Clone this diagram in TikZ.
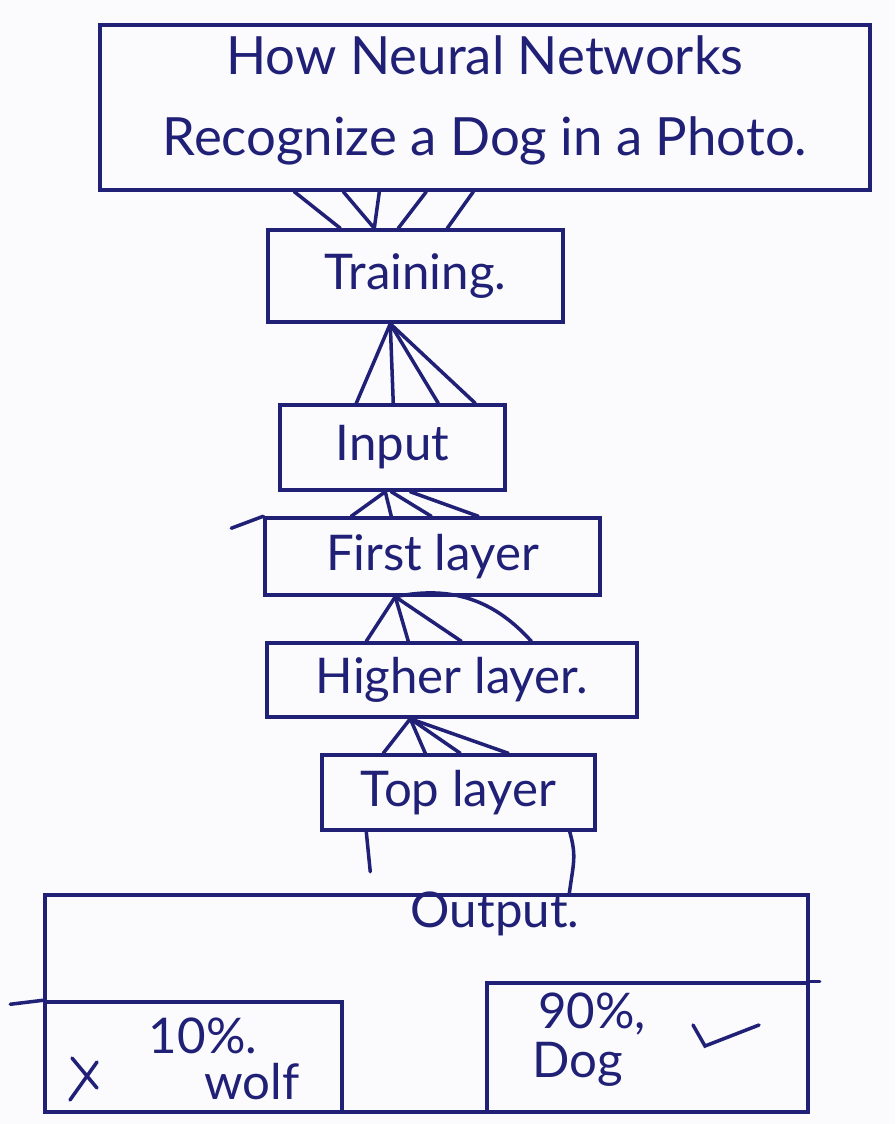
\documentclass[tikz,border=0pt]{standalone}
\usepackage{fontspec}
\setmainfont{Lato}
\usetikzlibrary{calc}
\definecolor{ink}{RGB}{32,32,118}
\definecolor{paper}{RGB}{251,251,254}
\tikzset{
  box/.style={draw=ink, line width=2pt, rectangle, inner sep=2pt,
              font=\fontsize{28}{34}\selectfont, text=ink},
  txt/.style={font=\fontsize{28}{34}\selectfont, text=ink, inner sep=1pt},
  titletxt/.style={font=\fontsize{30}{46}\selectfont, text=ink, align=center},
  wire/.style={draw=ink, line width=2pt, line cap=round},
}
\begin{document}
\begin{tikzpicture}[x=0.02cm, y=-0.02cm]
  \useasboundingbox (0,0) rectangle (895,1124);
  \fill[paper] (0,0) rectangle (895,1124);
  \clip (0,0) rectangle (895,1124);

  % title frame and its two lines of text
  \node[box, minimum width=15.4cm, minimum height=3.3cm] (title) at (485,107.5) {};
  \node[titletxt] (titletext) at (485,100) {How Neural Networks\\Recognize a Dog in a Photo.};

  % the stack of layers
  \node[box, minimum width=5.9cm,  minimum height=1.84cm] (train)  at (415.5,276)   {Training.};
  \node[box, minimum width=4.5cm,  minimum height=1.7cm]  (input)  at (392.5,447.5) {Input};
  \node[box, minimum width=6.7cm,  minimum height=1.54cm] (first)  at (432.5,556.5) {First layer};
  \node[box, minimum width=7.4cm,  minimum height=1.48cm] (higher) at (452,680)     {Higher layer.};
  \node[box, minimum width=5.46cm, minimum height=1.5cm]  (top)    at (458.5,792.5) {Top layer};

  % output frame with the two result boxes
  \node[box, minimum width=15.26cm, minimum height=4.34cm] (output) at (426.5,1003.5) {};
  \node[txt] (outtext) at (495,914) {Output.};
  \node[box, minimum width=5.94cm, minimum height=2.2cm]  (wolf) at (193.5,1057) {};
  \node[box, minimum width=6.42cm, minimum height=2.58cm] (dog)  at (647.5,1047.5) {};
  \node[txt] (wolfpct)  at (203,1036) {10\%.};
  \node[txt] (wolfname) at (252,1082) {wolf};
  \node[txt] (dogpct)   at (592,1014) {90\%,};
  \node[txt] (dogname)  at (578,1064) {Dog};

  % cross and tick marks
  \draw[wire] (72,1058) -- (97,1088) (97,1062) -- (70,1100);
  \draw[wire] (693,1025) -- (705,1046) -- (759,1025);

  % title -> training fan
  \draw[wire] ($(title.south west)+(196,0)$) -- ($(train.north west)+(74,0)$);
  \draw[wire] ($(title.south west)+(245,0)$) -- ($(train.north west)+(108,0)$);
  \draw[wire] ($(title.south west)+(281,0)$) -- ($(train.north west)+(108,0)$);
  \draw[wire] ($(title.south west)+(328,0)$) -- ($(train.north west)+(132,0)$);
  \draw[wire] ($(title.south west)+(375,0)$) -- ($(train.north west)+(181,0)$);

  % training -> input fan
  \foreach \d in {78,115,160,197}
    \draw[wire] ($(train.south west)+(124,0)$) -- ($(input.north west)+(\d,0)$);

  % input -> first layer fan
  \draw[wire] ($(input.south west)+(107,0)$) -- ($(first.north west)+(88,0)$);
  \draw[wire] ($(input.south west)+(107,0)$) -- ($(first.north west)+(128,0)$);
  \draw[wire] ($(input.south west)+(113,0)$) -- ($(first.north west)+(168,0)$);
  \draw[wire] ($(input.south west)+(132,0)$) -- ($(first.north west)+(215,0)$);

  % first layer -> higher layer fan
  \draw[wire] ($(first.south west)+(132,0)$) -- ($(higher.north west)+(101,0)$);
  \draw[wire] ($(first.south west)+(132,0)$) -- ($(higher.north west)+(143,0)$);
  \draw[wire] ($(first.south west)+(132,0)$) -- ($(higher.north west)+(196,0)$);
  \draw[wire] ($(first.south west)+(132,0)$) .. controls ($(first.south west)+(190,-12)$) and ($(higher.north west)+(230,-40)$) .. ($(higher.north west)+(266,0)$);

  % higher layer -> top layer fan
  \foreach \d in {63,105,140,188}
    \draw[wire] ($(higher.south west)+(145,0)$) -- ($(top.north west)+(\d,0)$);

  % top layer -> output
  \coordinate (stub) at ($(top.south west)+(50,40)$);
  \draw[wire] ($(top.south west)+(46,0)$) -- (stub);
  \draw[wire] ($(top.south east)+(-27,0)$) .. controls ($(top.south east)+(-20,25)$) and ($(output.north west)+(530,-30)$) .. ($(output.north west)+(526,0)$);

  % overrunning strokes of some edges
  \draw[wire] (first.north west) -- ++(-32,12);
  \draw[wire] (wolf.north west) -- ++(-33,4);
  \draw[wire] (dog.north east) -- ++(10,0);
\end{tikzpicture}
\end{document}
